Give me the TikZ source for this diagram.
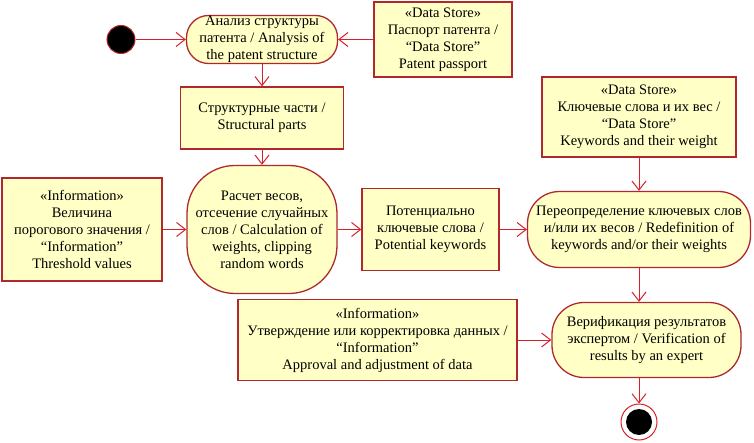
\documentclass[tikz,border=0pt]{standalone}
\usepackage{fontspec}
\setmainfont{Liberation Serif}
\usetikzlibrary{arrows.meta}
\definecolor{boxfill}{HTML}{FFFFC6}
\definecolor{boxline}{HTML}{B0282E}
\definecolor{arr}{HTML}{D8202A}
\begin{document}
\begin{tikzpicture}[x=1pt,y=-1pt,
  every node/.style={font=\fontsize{14.5}{17}\selectfont, align=center, inner sep=0pt},
  objbox/.style={draw=boxline, fill=boxfill, line width=1.3pt, rectangle},
  actbox/.style={draw=boxline, fill=boxfill, line width=1.3pt, rectangle, rounded corners=#1},
  actbox/.default=22pt,
  flow/.style={draw=arr, line width=1pt, -{Straight Barb[length=9pt,width=14pt]}}]
\useasboundingbox (0,0) rectangle (754,443);

\node[circle, fill=black, draw=boxline, line width=1pt, minimum size=28pt] (start) at (121,39.5) {};
\node[actbox=22pt, minimum width=151pt, minimum height=48pt] (A) at (262,39.5)
  {Анализ структуры\\патента / Analysis of\\the patent structure};
\node[objbox, minimum width=138pt, minimum height=75pt] (DS1) at (443,39.5)
  {«Data Store»\\Паспорт патента /\\“Data Store”\\Patent passport};
\node[objbox, minimum width=163pt, minimum height=62pt] (SP) at (262,118)
  {Структурные части /\\Structural parts};
\node[objbox, minimum width=194pt, minimum height=80pt] (DS2) at (639,117)
  {«Data Store»\\Ключевые слова и их вес /\\“Data Store”\\Keywords and their weight};
\node[objbox, minimum width=160pt, minimum height=103pt] (I1) at (82,229.5)
  {«Information»\\Величина\\порогового значения /\\“Information”\\Threshold values};
\node[actbox=48pt, minimum width=150pt, minimum height=128pt] (C) at (262,229.5)
  {Расчет весов,\\отсечение случайных\\слов / Calculation of\\weights, clipping\\random words};
\node[objbox, minimum width=137pt, minimum height=82pt] (P) at (430.5,229.5)
  {Потенциально\\ключевые слова /\\Potential keywords};
\node[actbox=32pt, minimum width=223pt, minimum height=76pt] (R) at (639,229.5)
  {Переопределение ключевых слов\\и/или их весов / Redefinition of\\keywords and/or their weights};
\node[objbox, minimum width=279pt, minimum height=81pt] (I2) at (377.5,340)
  {«Information»\\Утверждение или корректировка данных /\\“Information”\\Approval and adjustment of data};
\node[actbox=32pt, minimum width=189pt, minimum height=75pt] (V) at (646.5,340)
  {Верификация результатов\\экспертом / Verification of\\results by an expert};
\node[circle, fill=white, draw=arr, line width=1pt, minimum size=36pt] (E) at (639,422) {};
\node[circle, fill=black, minimum size=26pt] (Ein) at (E) {};

\draw[flow] (start) -- (A);
\draw[flow] (DS1) -- (A);
\draw[flow] (A) -- (SP);
\draw[flow] (SP) -- (C);
\draw[flow] (I1) -- (C);
\draw[flow] (C) -- (P);
\draw[flow] (P) -- (R);
\draw[flow] (DS2) -- (R);
\draw[flow] (R.south) -- (R.south |- V.north);
\draw[flow] (I2) -- (V);
\draw[flow] (V.south -| E) -- (E);
\end{tikzpicture}
\end{document}
